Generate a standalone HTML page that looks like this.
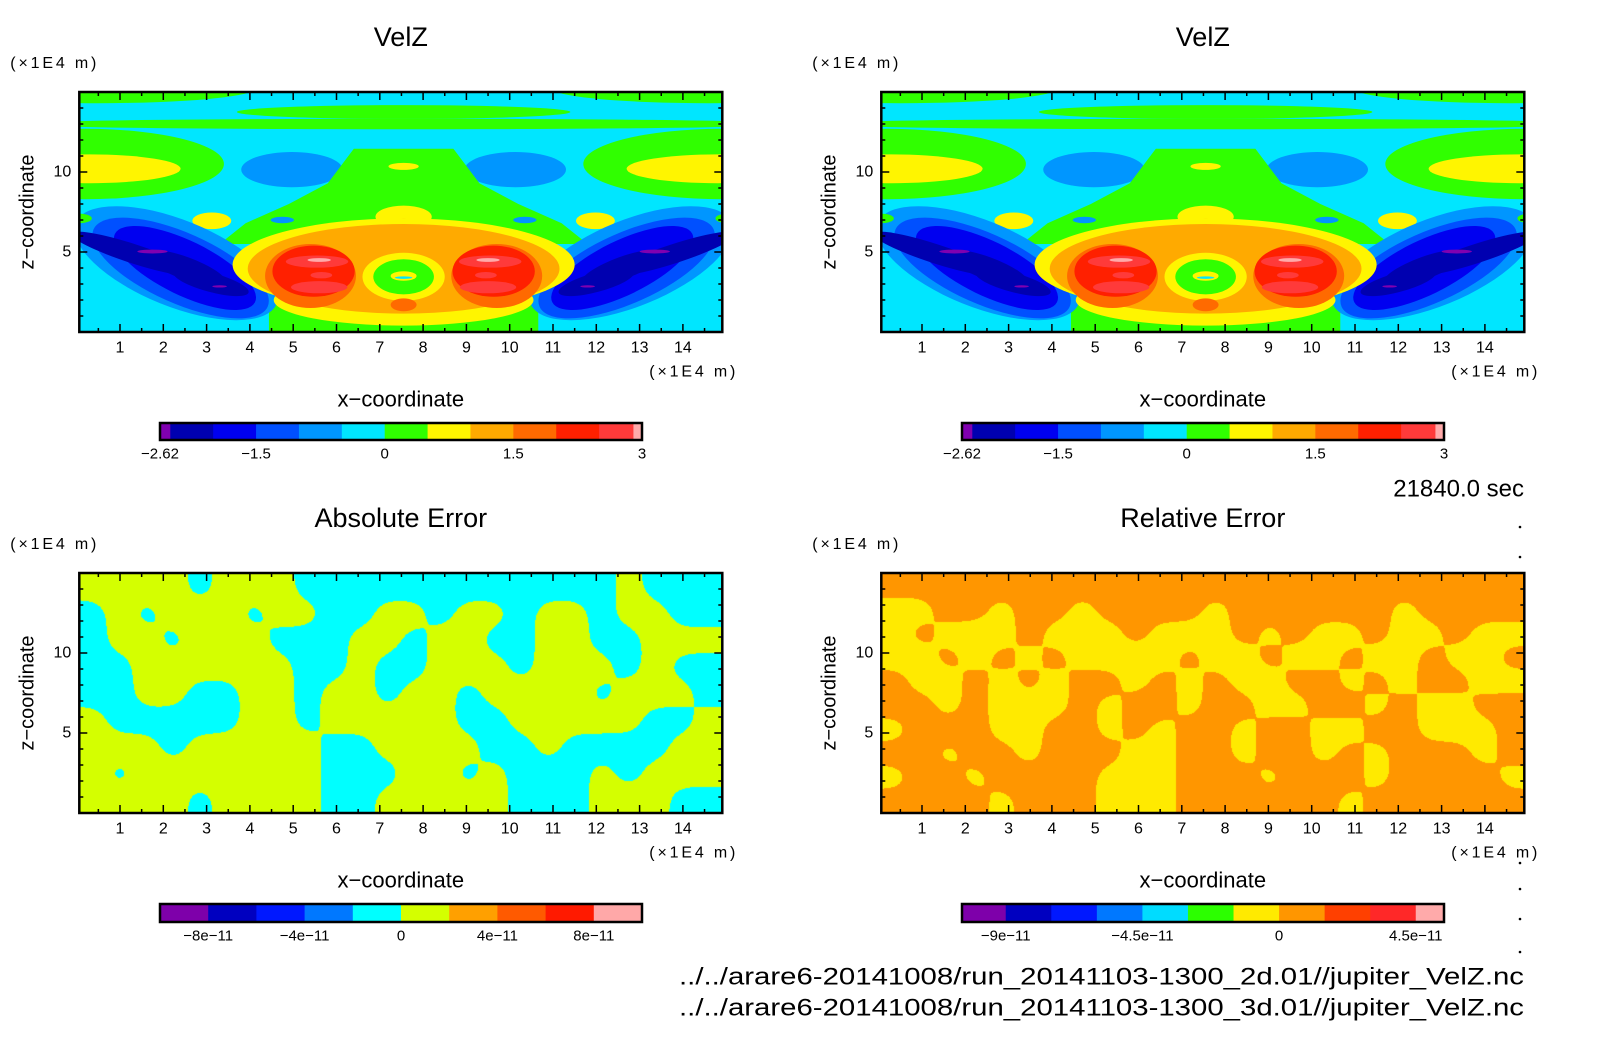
<!DOCTYPE html>
<html><head><meta charset="utf-8"><title>VelZ comparison</title>
<style>
html,body{margin:0;padding:0;background:#fff;}
#wrap{position:relative;width:1604px;height:1054px;overflow:hidden;background:#fff;}
canvas{position:absolute;}
svg{position:absolute;left:0;top:0;}
text{font-family:"Liberation Sans",sans-serif;fill:#000;}
</style></head>
<body>
<div id="wrap">
<canvas id="cvAbs" width="643" height="240" style="left:79px;top:573px"></canvas>
<canvas id="cvRel" width="643" height="240" style="left:881px;top:573px"></canvas>
<svg id="svg" width="1604" height="1054" xmlns="http://www.w3.org/2000/svg"></svg>
</div>
<script>
// ---------- data ----------
const velLevels=[-2.62,-2.5,-2,-1.5,-1,-0.5,0,0.5,1,1.5,2,2.5,2.9,3];
const velColors=["#8000B0","#0000B0","#0000F0","#0050FF","#0096FF","#00E6FF","#30FF00","#FFF500","#FFAA00","#FF6A00","#FF2000","#FF3A3A","#FFAAAA"];
const velTickVals=[-2.62,-1.5,0,1.5,3];
const velTickLabels=["\u22122.62","\u22121.5","0","1.5","3"];
const absLevels=[-10,-8,-6,-4,-2,0,2,4,6,8,10];
const absColors=["#7E00AA","#0000C0","#0018FF","#0078FF","#00FFFF","#D4FF00","#FFA000","#FF5A00","#FF1A00","#FFA8A8"];
const absTickVals=[-8,-4,0,4,8];
const absTickLabels=["\u22128e\u221211","\u22124e\u221211","0","4e\u221211","8e\u221211"];
const relLevels=[-10.44,-9,-7.5,-6,-4.5,-3,-1.5,0,1.5,3,4.5,5.43];
const relColors=["#7E00AA","#0000C0","#0018FF","#0078FF","#00DCFF","#2CFF00","#FFEA00","#FF9600","#FF4000","#FF2828","#FFAAAA"];
const relTickVals=[-9,-4.5,0,4.5];
const relTickLabels=["\u22129e\u221211","\u22124.5e\u221211","0","4.5e\u221211"];
const xTicks=[1,2,3,4,5,6,7,8,9,10,11,12,13,14];
const zTicks=[5,10];
// VelZ contour blobs (data units: x, z in 1E4 m; level index into velColors)
const blobX=[0.5,7.55,7.55,0.2,0.3,4.97,7.55,7.55,7.55,3.12,4.75,2.3,2.4,2.5,1.3,2.5,3.1,1.75,3.3,0.05,7.55,7.55,7.55,5.4,5.47,5.55,5.6,5.65,5.6,7.55,7.55,7.55,7.55,7.55];
const blobZ=[15.2,13.75,13.0,10.5,10.2,10.15,10.35,7.2,6.9,6.95,7.0,4.3,4.0,4.0,4.9,4.0,3.1,5.03,2.85,7.1,4.2,2.0,3.95,3.5,3.8,4.4,2.8,3.55,4.5,3.45,3.45,3.5,3.4,1.7];
const blobRX=[3.6,3.85,9,3.2,2.1,1.17,0.35,0.65,0.3,0.45,0.27,2.5,2.2,1.8,1.5,1.0,0.9,0.35,0.17,0.3,3.95,3.0,3.6,1.05,0.95,0.72,0.65,0.25,0.27,0.95,0.7,0.3,0.2,0.3];
const blobRZ=[0.9,0.43,0.33,2.2,0.9,1.1,0.22,0.7,0.2,0.52,0.2,2.7,2.2,1.7,0.6,0.7,0.6,0.12,0.07,0.3,2.9,1.6,2.8,2.0,1.6,0.38,0.38,0.2,0.12,1.5,1.1,0.3,0.08,0.4];
const blobRot=[0,0,0,0,0,0,0,0,0,0,0,22,24,26,18,20,15,0,0,0,0,0,0,0,0,0,0,0,0,0,0,0,0,0];
const blobLevel=[6,6,6,6,7,4,7,7,8,7,4,4,3,2,1,1,1,0,0,6,7,7,8,9,10,11,11,11,12,7,6,7,5,9];
const blobMirror=[1,0,0,1,1,1,0,0,0,1,1,1,1,1,1,1,1,1,1,1,0,0,0,1,1,1,1,1,1,0,0,0,0,0];
const domeX=[6.4,8.7,9.3,10.2,11.2,11.8,3.3,3.9,4.9,5.8];
const domeZ=[11.45,11.45,9.3,8.0,6.8,5.5,5.5,6.8,8.0,9.3];
const colX=[4.44,10.66,10.66,4.44];
const colZ=[5.5,5.5,0,0];
// error fields: 1 = upper colour, 0 = lower colour (rows top -> bottom)
const absGrid=[
"111101110000000000001000",
"010111011001101101101100",
"011011100011011001100111",
"001111110010011101110100",
"001100110110110111101110",
"100000110111110011111001",
"111011111001111001000011",
"101111111000110100010111",
"111101111001111100011100"];
const relGrid=[
"111111111111111111111111",
"001101101111011111101111",
"010001000100010100100100",
"001010100001001001001001",
"100101011010100110101100",
"110100010110110011010011",
"011100110101101100110001",
"110110111001101101011101",
"011011110001110111011110",
"111101110001111110111111"];

// ---------- geometry ----------
const NS="http://www.w3.org/2000/svg";
const svg=document.getElementById("svg");
const PW=643, PH=240, XPU=43.3, ZPU=16;
const panels=[
 {ox:79.3, oy:92, name:"top-left"},
 {ox:881.3, oy:92, name:"top-right"},
 {ox:79.3, oy:573, name:"bottom-left"},
 {ox:881.3, oy:573, name:"bottom-right"}];
function xs(p,v){return p.ox-2.6+v*XPU;}
function zs(p,v){return p.oy+PH-v*ZPU;}
function el(tag,attrs,parent){const e=document.createElementNS(NS,tag);for(const k in attrs)e.setAttribute(k,attrs[k]);(parent||svg).appendChild(e);return e;}
function txt(s,x,y,size,anchor,parent){const t=el("text",{x:x,y:y,"font-size":size,"text-anchor":anchor||"middle","dominant-baseline":"central"},parent);t.textContent=s;return t;}

// ---------- VelZ fields ----------
const defs=el("defs",{});
[0,1].forEach(i=>{
 const p=panels[i];
 const cp=el("clipPath",{id:"clip"+i},defs);
 el("rect",{x:p.ox,y:p.oy,width:PW,height:PH},cp);
 const g=el("g",{"clip-path":"url(#clip"+i+")"});
 
 
 const bg=el("rect",{x:p.ox,y:p.oy,width:PW,height:PH,fill:velColors[5]},g);
 
 
 function poly(xa,za,lvl,nm){
  const pts=xa.map((x,k)=>xs(p,x)+","+zs(p,za[k])).join(" ");
  const pg=el("polygon",{points:pts,fill:velColors[lvl]},g);
  
  
 }
 function blob(k){
  const list=blobMirror[k]?[[blobX[k],blobRot[k]],[15.1-blobX[k],-blobRot[k]]]:[[blobX[k],blobRot[k]]];
  list.forEach(([x,rot])=>{
   const cx=xs(p,x),cy=zs(p,blobZ[k]);
   const e=el("ellipse",{cx:cx,cy:cy,rx:blobRX[k]*XPU,ry:blobRZ[k]*ZPU,fill:velColors[blobLevel[k]],transform:"rotate("+rot+" "+cx+" "+cy+")"},g);
   
   
  });
 }
 for(let k=0;k<=5;k++)blob(k);
 poly(domeX,domeZ,6,"contour-dome");
 for(let k=6;k<=10;k++)blob(k);
 poly(colX,colZ,6,"contour-column");
 for(let k=11;k<blobX.length;k++)blob(k);
});

// ---------- error fields (canvas, gaussian-smoothed grid) ----------
function drawGrid(id,grid,c1,c0){
 const cv=document.getElementById(id),ctx=cv.getContext("2d");
 const W=cv.width,H=cv.height,R=grid.length,C=grid[0].length;
 const img=ctx.createImageData(W,H);
 const a=hex(c1),b=hex(c0);
 const sig=0.55, s2=2*sig*sig;
 for(let y=0;y<H;y++){
  const gy=y/H*R-0.5;
  for(let x=0;x<W;x++){
   const gx=x/W*C-0.5;
   let sw=0,sv=0;
   const r0=Math.floor(gy),c0i=Math.floor(gx);
   for(let r=r0-3;r<=r0+3;r++){for(let c=c0i-3;c<=c0i+3;c++){
    const rr=Math.max(0,Math.min(R-1,r)),cc=Math.max(0,Math.min(C-1,c));
    const d=(r-gy)*(r-gy)+(c-gx)*(c-gx);
    const w=Math.exp(-d/s2);
    sw+=w;sv+=w*(+grid[rr][cc]);
   }}
   const col=(sv/sw)>=0.5?a:b, o=(y*W+x)*4;
   img.data[o]=col[0];img.data[o+1]=col[1];img.data[o+2]=col[2];img.data[o+3]=255;
  }
 }
 ctx.putImageData(img,0,0);
}
function hex(h){return [parseInt(h.substr(1,2),16),parseInt(h.substr(3,2),16),parseInt(h.substr(5,2),16)];}
drawGrid("cvAbs",absGrid,absColors[5],absColors[4]);
drawGrid("cvRel",relGrid,relColors[7],relColors[6]);

// ---------- axes ----------
const titles=["VelZ","VelZ","Absolute Error","Relative Error"];
panels.forEach((p,i)=>{
 const g=el("g",{});
 
 
 const fr=el("rect",{x:p.ox,y:p.oy,width:PW,height:PH,fill:"none",stroke:"#000","stroke-width":2.5},g);
 
 
 for(let v=0.5;v<15;v+=0.5){
  const x=xs(p,v); if(x<p.ox+2||x>p.ox+PW-2)continue;
  const L=(v%1===0)?8:4;
  el("line",{x1:x,y1:p.oy+PH,x2:x,y2:p.oy+PH-L,stroke:"#000","stroke-width":1.5},g);
  el("line",{x1:x,y1:p.oy,x2:x,y2:p.oy+L,stroke:"#000","stroke-width":1.5},g);
 }
 for(let v=1;v<15;v++){
  const y=zs(p,v); const L=(v%5===0)?8:4;
  el("line",{x1:p.ox,y1:y,x2:p.ox+L,y2:y,stroke:"#000","stroke-width":1.5},g);
  el("line",{x1:p.ox+PW,y1:y,x2:p.ox+PW-L,y2:y,stroke:"#000","stroke-width":1.5},g);
 }
 xTicks.forEach(v=>{const t=txt(String(v),xs(p,v),p.oy+256,16,"middle",g);
  
  });
 zTicks.forEach(v=>{const t=txt(String(v),p.ox-8,zs(p,v),16,"end",g);
  
  });
 const cx=p.ox+PW/2;
 const tt=txt(titles[i],cx,p.oy-55,27,"middle",g);
 
 
 const u1=txt("(\u00d71E4 m)",p.ox-69,p.oy-28.5,16,"start",g);
 u1.setAttribute("textLength","86");
 
 
 const u2=txt("(\u00d71E4 m)",p.ox+570,p.oy+280,16,"start",g);
 u2.setAttribute("textLength","86");
 
 
 const xl=txt("x\u2212coordinate",cx,p.oy+307,22,"middle",g);
 
 
 const yl=txt("z\u2212coordinate",0,0,20,"middle",g);
 yl.setAttribute("transform","translate("+(p.ox-52)+","+(p.oy+120)+") rotate(-90)");
 
 
});

// ---------- colorbars ----------
function colorbar(x0,x1,y0,h,levels,colors,tv,tl,name){
 const g=el("g",{});
 
 
 const lo=levels[0],hi=levels[levels.length-1];
 const sx=v=>x0+(v-lo)/(hi-lo)*(x1-x0);
 colors.forEach((c,k)=>{
  const r=el("rect",{x:sx(levels[k]),y:y0,width:sx(levels[k+1])-sx(levels[k])+0.5,height:h,fill:c},g);
  
  
 });
 el("rect",{x:x0,y:y0,width:x1-x0,height:h,fill:"none",stroke:"#000","stroke-width":2.5},g);
 tv.forEach((v,k)=>{const t=txt(tl[k],sx(v),y0+h+14,15,"middle",g);
  
  });
}
colorbar(160,642,423,17,velLevels,velColors,velTickVals,velTickLabels,"colorbar-velz-left");
colorbar(962,1444,423,17,velLevels,velColors,velTickVals,velTickLabels,"colorbar-velz-right");
colorbar(160,642,904,18,absLevels,absColors,absTickVals,absTickLabels,"colorbar-absolute-error");
colorbar(962,1444,904,18,relLevels,relColors,relTickVals,relTickLabels,"colorbar-relative-error");

// ---------- annotations ----------
const tm=txt("21840.0 sec",1524,489,24,"end");


const f1=txt("../../arare6-20141008/run_20141103-1300_2d.01//jupiter_VelZ.nc",1524,977,24,"end");
f1.setAttribute("textLength","845");
f1.setAttribute("lengthAdjust","spacingAndGlyphs");


const f2=txt("../../arare6-20141008/run_20141103-1300_3d.01//jupiter_VelZ.nc",1524,1008,24,"end");
f2.setAttribute("textLength","845");
f2.setAttribute("lengthAdjust","spacingAndGlyphs");


[527,557,863,889,919,952].forEach(y=>{
 const d=el("circle",{cx:1520,cy:y,r:1.3,fill:"#000"});
 
 
});
</script>
</body></html>
